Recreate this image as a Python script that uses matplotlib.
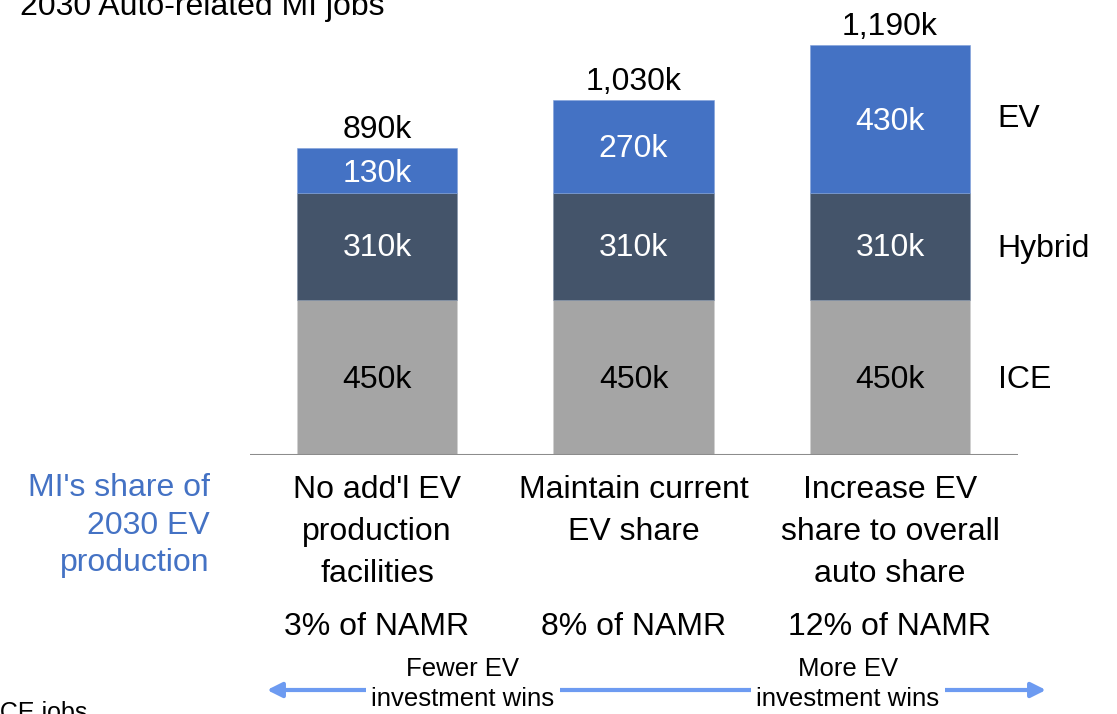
import matplotlib.pyplot as plt
from matplotlib.transforms import blended_transform_factory

plt.rcParams["font.family"] = ["Liberation Sans", "DejaVu Sans"]

scenarios = ["No add'l EV\nproduction\nfacilities", "Maintain current\nEV share", "Increase EV\nshare to overall\nauto share"]
namr_share = ["3% of NAMR", "8% of NAMR", "12% of NAMR"]
ice = [450, 450, 450]
hybrid = [310, 310, 310]
ev = [130, 270, 430]
totals = [890, 1030, 1190]
series_names = ["ICE", "Hybrid", "EV"]

c_ice = "#A5A5A5"
c_hybrid = "#44546A"
c_ev = "#4472C4"
c_arrow = "#6D9BF1"

W, H = 1117, 714
fig = plt.figure(figsize=(W / 100, H / 100), dpi=100)


def fx(x):
    return x / W


def fy(y):
    return 1 - y / H


# axes placed so the baseline sits at pixel 455 and spans 250..1018
ax = fig.add_axes([fx(250), fy(455), fx(1018) - fx(250), fy(0) - fy(455)])
ax.set_xlim(-0.495, 2.499)
ax.set_ylim(0, 1321)
ax.axis("off")

x = range(len(scenarios))
width = 0.624
ax.bar(x, ice, width, color=c_ice, edgecolor="#D0D0D0", linewidth=0.4)
ax.bar(x, hybrid, width, bottom=ice, color=c_hybrid, edgecolor="#8090A8", linewidth=0.4)
bottoms = [a + b for a, b in zip(ice, hybrid)]
ax.bar(x, ev, width, bottom=bottoms, color=c_ev, edgecolor="#7FA0DA", linewidth=0.4)
ax.axhline(0, color="#8C8C8C", lw=2.2, xmin=0, xmax=1)

fs = 23
for i in x:
    ax.text(i, ice[i] / 2 - 8, f"{ice[i]}k", ha="center", va="center", fontsize=fs, color="black")
    ax.text(i, ice[i] + hybrid[i] / 2 - 5, f"{hybrid[i]}k", ha="center", va="center", fontsize=fs, color="white")
    ax.text(i, bottoms[i] + ev[i] / 2 - 8, f"{ev[i]}k", ha="center", va="center", fontsize=fs, color="white")
    ax.text(i, totals[i] + 10, f"{totals[i]:,}k", ha="center", va="bottom", fontsize=fs)

# series labels at the right of the last bar
last = len(scenarios) - 1
ax.text(2.42, ice[last] / 2 - 8, series_names[0], ha="left", va="center", fontsize=fs)
ax.text(2.42, ice[last] + hybrid[last] / 2 - 6, series_names[1], ha="left", va="center", fontsize=fs)
ax.text(2.42, bottoms[last] + ev[last] / 2, series_names[2], ha="left", va="center", fontsize=fs)

# text below the axis: x in data units, y in figure units
tr = blended_transform_factory(ax.transData, fig.transFigure)
for i in x:
    ax.text(i, fy(475), scenarios[i], transform=tr, ha="center", va="top", fontsize=fs, linespacing=1.53)
    ax.text(i, fy(627), namr_share[i], transform=tr, ha="center", va="center", fontsize=fs)

fig.text(fx(210), fy(473), "MI's share of\n2030 EV\nproduction", ha="right", va="top",
         fontsize=fs, color=c_ev, linespacing=1.33)

fig.text(fx(20), fy(15), "2030 Auto-related MI jobs", ha="left", va="baseline", fontsize=fs)
fig.text(fx(-7), fy(720), "ICE jobs", ha="left", va="baseline", fontsize=18)

# direction arrow along the bottom
ax.annotate("", xy=(fx(267), fy(690)), xytext=(fx(1046), fy(690)),
            xycoords="figure fraction", textcoords="figure fraction",
            arrowprops=dict(arrowstyle="<|-|>", color=c_arrow, lw=3, mutation_scale=22,
                            shrinkA=0, shrinkB=0))
fig.text(fx(463), fy(684), "Fewer EV\ninvestment wins", ha="center", va="center", fontsize=18.5,
         linespacing=1.36, bbox=dict(facecolor="white", edgecolor="none", pad=4))
fig.text(fx(848), fy(684), "More EV\ninvestment wins", ha="center", va="center", fontsize=18.5,
         linespacing=1.36, bbox=dict(facecolor="white", edgecolor="none", pad=4))

fig.savefig("out.png", dpi=100)
